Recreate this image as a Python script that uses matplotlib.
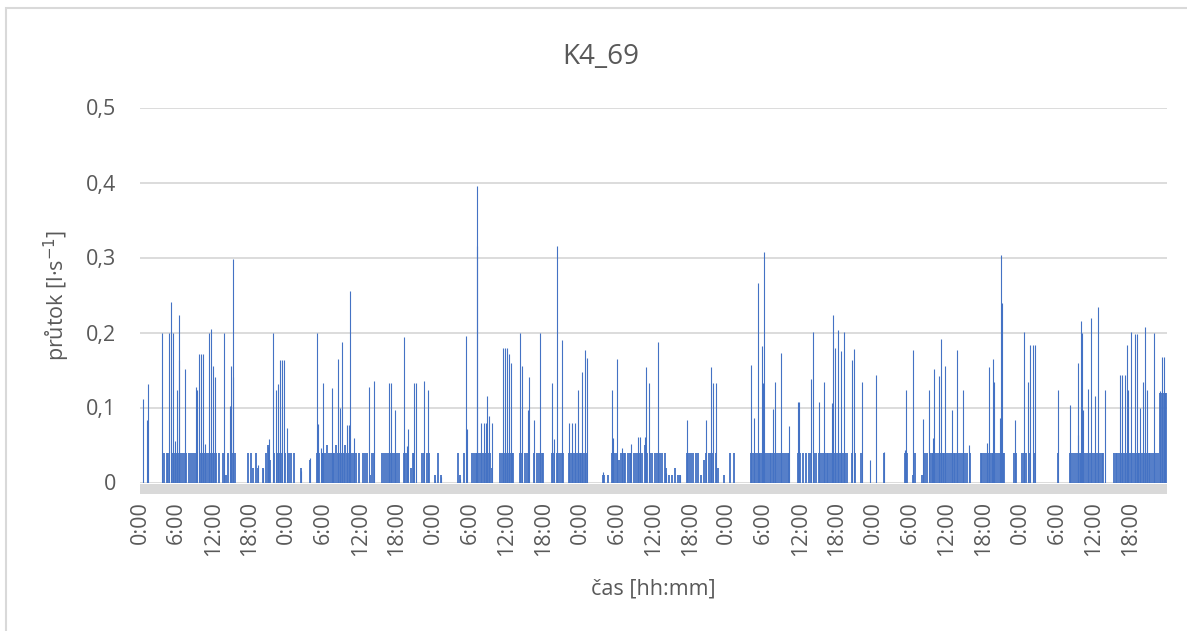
import matplotlib
matplotlib.use("Agg")
import matplotlib.pyplot as plt
from matplotlib.patches import Rectangle

# ------------------------------------------------------------
# data: hours since start (0 = 0:00 of day 1), flow in l/s
# ------------------------------------------------------------
# larger draw-off events
peak_h = [
    0.54, 1.10, 1.36, 3.65, 4.79, 5.07, 5.35, 5.73, 6.00, 6.33,
    6.43, 7.36, 9.11, 9.28, 9.65, 9.98, 10.35, 10.63, 11.34, 11.61,
    11.89, 12.22, 13.79, 14.72, 14.89, 15.16, 15.26, 19.25, 20.07, 20.89,
    21.15, 21.80, 22.25, 22.62, 22.90, 23.18, 23.51, 24.10,
    26.29, 27.81, 28.90, 29.07, 29.66, 29.89, 31.41, 32.44, 32.72, 33.04,
    33.81, 34.14, 34.35, 35.01, 37.41, 38.33, 40.78, 41.01, 41.71, 43.19,
    43.63, 43.89, 44.87, 45.15, 46.51, 47.16, 48.26, 49.24,
    52.35, 53.33, 53.54, 55.08, 55.17, 55.73, 56.27, 56.55, 56.81, 57.09,
    57.53, 59.43, 59.71, 60.08, 60.41, 60.69, 62.16, 62.44, 63.42, 63.58,
    64.50, 65.43, 67.44, 67.77, 68.16, 68.98, 70.23, 70.72, 71.16, 71.60,
    72.35, 72.74, 73.07,
    75.69, 77.16, 77.42, 78.08, 78.89, 80.27, 81.51, 81.79, 82.61, 82.77,
    83.31, 84.73, 86.04, 88.33, 89.53, 92.59, 93.40, 93.68, 94.17,
    99.95, 100.44, 101.05, 101.70, 101.91, 102.12, 103.50, 103.87, 104.90, 106.21,
    107.59, 107.80, 109.71, 110.04, 111.12, 111.89, 113.15, 113.41, 113.69, 114.13,
    114.62, 115.16, 116.47, 116.80, 118.05, 119.41, 120.39, 121.70,
    125.14, 125.30, 126.40, 128.03, 129.01, 129.67, 129.83, 130.75, 130.98, 131.68,
    132.78, 133.60, 134.68, 135.66, 138.60, 138.88, 139.59, 139.75, 140.63, 140.84,
    141.01, 143.14, 144.66, 145.21, 145.59, 146.03, 146.41,
    150.12, 152.13, 153.39, 153.49, 153.88, 154.04, 154.30, 155.12, 155.51, 156.22,
    156.71, 157.86, 160.31, 160.69, 161.13, 161.40, 161.66, 162.06, 162.76, 163.14,
    163.58, 164.12, 164.39, 164.77, 165.87, 166.85, 167.13, 167.50,
]
peak_v = [
    0.111, 0.083, 0.132, 0.200, 0.200, 0.241, 0.200, 0.055, 0.123, 0.223,
    0.164, 0.151, 0.128, 0.124, 0.172, 0.172, 0.172, 0.052, 0.200, 0.205,
    0.155, 0.141, 0.200, 0.102, 0.155, 0.298, 0.141, 0.024, 0.018, 0.047,
    0.058, 0.200, 0.124, 0.132, 0.163, 0.163, 0.163, 0.073,
    0.016, 0.033, 0.200, 0.078, 0.046, 0.133, 0.126, 0.165, 0.100, 0.187,
    0.077, 0.077, 0.256, 0.060, 0.128, 0.135, 0.133, 0.133, 0.097, 0.194,
    0.049, 0.071, 0.133, 0.133, 0.136, 0.123, 0.003, 0.008,
    0.005, 0.195, 0.071, 0.395, 0.316, 0.080, 0.080, 0.080, 0.116, 0.089,
    0.080, 0.180, 0.180, 0.180, 0.171, 0.160, 0.200, 0.155, 0.097, 0.141,
    0.084, 0.200, 0.133, 0.058, 0.316, 0.190, 0.080, 0.080, 0.080, 0.123,
    0.148, 0.177, 0.166,
    0.014, 0.123, 0.060, 0.165, 0.046, 0.052, 0.061, 0.061, 0.061, 0.154,
    0.133, 0.188, 0.013, 0.010, 0.084, 0.084, 0.154, 0.133, 0.133,
    0.157, 0.086, 0.266, 0.182, 0.133, 0.307, 0.098, 0.134, 0.173, 0.076,
    0.107, 0.107, 0.138, 0.201, 0.107, 0.134, 0.106, 0.223, 0.180, 0.204,
    0.176, 0.201, 0.164, 0.178, 0.134, 0.030, 0.143, 0.041,
    0.043, 0.124, 0.177, 0.085, 0.124, 0.060, 0.151, 0.142, 0.192, 0.156,
    0.097, 0.177, 0.124, 0.050, 0.053, 0.154, 0.165, 0.134, 0.086, 0.304,
    0.240, 0.084, 0.201, 0.134, 0.184, 0.184, 0.184,
    0.124, 0.104, 0.063, 0.160, 0.216, 0.200, 0.097, 0.125, 0.219, 0.116,
    0.234, 0.124, 0.144, 0.144, 0.144, 0.184, 0.124, 0.201, 0.198, 0.198,
    0.100, 0.134, 0.208, 0.124, 0.200, 0.122, 0.168, 0.168,
]

# small, frequent flows (mostly ~0.04 l/s)
low_h = [
    3.9, 4.4, 4.6, 5.2, 5.5, 5.9, 6.2, 6.6, 6.9, 7.2,
    7.6, 8.0, 8.3, 8.7, 9.0, 9.4, 9.8, 10.1, 10.5, 10.8,
    11.1, 11.5, 11.8, 12.1, 12.5, 12.9, 13.5, 14.1, 14.4, 15.0,
    15.5, 17.7, 18.1, 18.5, 18.9, 19.3, 20.2, 20.6, 20.9, 21.3,
    22.0, 22.4, 22.8, 23.3, 23.7, 24.3, 24.7, 25.2, 26.3, 27.8,
    29.0, 29.3, 29.7, 30.0, 30.3, 30.6, 30.9, 31.2, 31.5, 31.8,
    32.1, 32.4, 32.7, 33.0, 33.3, 33.6, 33.9, 34.2, 34.6, 35.0,
    35.4, 35.8, 36.4, 36.8, 37.2, 37.6, 38.0, 38.3, 39.6, 39.9,
    40.2, 40.5, 40.9, 41.2, 41.6, 42.0, 42.3, 43.2, 43.5, 43.9,
    44.3, 44.6, 44.9, 46.1, 46.5, 46.9, 47.2, 48.3, 48.8, 49.2,
    52.0, 52.4, 53.0, 53.5, 54.3, 54.6, 54.9, 55.2, 55.5, 55.8,
    56.1, 56.4, 56.7, 57.0, 57.3, 57.6, 58.9, 59.2, 59.6, 59.9,
    60.2, 60.5, 60.8, 61.0, 62.1, 62.5, 62.9, 63.3, 63.6, 64.5,
    64.9, 65.3, 65.7, 66.0, 67.4, 67.8, 68.2, 68.6, 68.9, 69.2,
    70.2, 70.5, 70.9, 71.2, 71.5, 71.9, 72.2, 72.5, 72.8, 73.1,
    75.7, 77.2, 77.5, 77.9, 78.3, 78.7, 79.1, 79.4, 79.8, 80.1,
    80.4, 80.8, 81.1, 81.5, 81.8, 82.2, 82.6, 83.0, 83.4, 83.8,
    84.2, 84.6, 85.0, 85.4, 85.8, 86.1, 86.5, 87.5, 88.3, 89.5,
    89.8, 90.1, 90.5, 90.9, 91.3, 92.3, 92.6, 93.0, 93.4, 93.8,
    94.2, 94.6, 96.5, 97.2, 75.9, 76.5, 87.0, 88.0, 91.8, 95.5,
    100.0, 100.3, 100.6, 100.9, 101.2, 101.5, 101.8, 102.1, 102.4, 102.7,
    103.0, 103.3, 103.6, 103.9, 104.2, 104.5, 104.8, 105.1, 105.4, 105.7,
    106.0, 106.2, 107.6, 108.0, 108.4, 109.0, 109.4, 109.8, 110.2, 110.6,
    111.1, 111.4, 111.7, 112.0, 112.3, 112.6, 112.9, 113.2, 113.5, 113.8,
    114.1, 114.4, 114.7, 115.0, 115.3, 115.6, 116.5, 116.9, 118.0, 121.7,
    125.1, 125.5, 126.4, 126.8, 128.0, 128.4, 128.8, 129.2, 129.5, 129.8,
    130.1, 130.4, 130.7, 131.0, 131.3, 131.6, 131.9, 132.2, 132.5, 132.8,
    133.1, 133.4, 133.7, 134.0, 134.3, 134.6, 134.9, 135.3, 135.7, 137.5,
    137.8, 138.1, 138.4, 138.7, 139.0, 139.3, 139.6, 139.9, 140.2, 140.5,
    140.8, 141.1, 141.4, 143.0, 143.3, 144.3, 144.6, 145.0, 145.6, 146.2,
    150.1, 152.1, 152.5, 152.8, 153.1, 153.4, 153.7, 154.0, 154.3, 154.6,
    154.9, 155.2, 155.5, 155.8, 156.1, 156.4, 156.7, 157.0, 157.3, 157.6,
    159.3, 159.6, 159.9, 160.2, 160.5, 160.8, 161.1, 161.4, 161.7, 162.0,
    162.3, 162.6, 162.9, 163.2, 163.5, 163.8, 164.1, 164.4, 164.7, 165.0,
    165.3, 165.6, 165.9, 166.2, 166.5, 166.8, 167.1, 167.4, 167.7, 167.9,
]
low_v = [
    0.04, 0.04, 0.04, 0.04, 0.04, 0.04, 0.04, 0.04, 0.04, 0.04,
    0.04, 0.04, 0.04, 0.04, 0.04, 0.04, 0.04, 0.04, 0.04, 0.04,
    0.04, 0.04, 0.04, 0.04, 0.04, 0.04, 0.04, 0.01, 0.04, 0.04,
    0.04, 0.04, 0.04, 0.02, 0.04, 0.02, 0.02, 0.04, 0.05, 0.03,
    0.04, 0.04, 0.04, 0.04, 0.04, 0.04, 0.04, 0.04, 0.02, 0.03,
    0.04, 0.04, 0.04, 0.04, 0.04, 0.05, 0.04, 0.04, 0.04, 0.04,
    0.05, 0.04, 0.04, 0.04, 0.04, 0.05, 0.04, 0.04, 0.04, 0.04,
    0.04, 0.04, 0.04, 0.04, 0.04, 0.01, 0.04, 0.04, 0.04, 0.04,
    0.04, 0.04, 0.04, 0.04, 0.04, 0.04, 0.04, 0.04, 0.04, 0.04,
    0.02, 0.04, 0.04, 0.04, 0.04, 0.04, 0.04, 0.01, 0.04, 0.01,
    0.04, 0.01, 0.04, 0.04, 0.04, 0.04, 0.04, 0.04, 0.04, 0.04,
    0.04, 0.04, 0.04, 0.04, 0.04, 0.02, 0.04, 0.04, 0.04, 0.04,
    0.04, 0.04, 0.04, 0.04, 0.04, 0.04, 0.04, 0.04, 0.04, 0.04,
    0.04, 0.04, 0.04, 0.04, 0.04, 0.04, 0.04, 0.04, 0.04, 0.04,
    0.04, 0.04, 0.04, 0.04, 0.04, 0.04, 0.04, 0.04, 0.04, 0.04,
    0.01, 0.04, 0.04, 0.04, 0.03, 0.04, 0.04, 0.04, 0.04, 0.04,
    0.04, 0.04, 0.04, 0.04, 0.04, 0.04, 0.05, 0.04, 0.04, 0.04,
    0.04, 0.04, 0.04, 0.04, 0.04, 0.02, 0.01, 0.02, 0.01, 0.04,
    0.04, 0.04, 0.04, 0.04, 0.04, 0.03, 0.04, 0.04, 0.04, 0.04,
    0.04, 0.02, 0.04, 0.04, 0.01, 0.01, 0.01, 0.01, 0.01, 0.01,
    0.04, 0.04, 0.04, 0.04, 0.04, 0.04, 0.04, 0.04, 0.04, 0.04,
    0.04, 0.04, 0.04, 0.04, 0.04, 0.04, 0.04, 0.04, 0.04, 0.04,
    0.04, 0.04, 0.04, 0.04, 0.04, 0.04, 0.04, 0.04, 0.04, 0.04,
    0.04, 0.04, 0.04, 0.04, 0.04, 0.04, 0.04, 0.04, 0.04, 0.04,
    0.04, 0.04, 0.04, 0.04, 0.04, 0.04, 0.04, 0.04, 0.04, 0.04,
    0.04, 0.04, 0.01, 0.04, 0.01, 0.04, 0.04, 0.04, 0.04, 0.04,
    0.04, 0.04, 0.04, 0.04, 0.04, 0.04, 0.04, 0.04, 0.04, 0.04,
    0.04, 0.04, 0.04, 0.04, 0.04, 0.04, 0.04, 0.04, 0.04, 0.04,
    0.04, 0.04, 0.04, 0.04, 0.04, 0.04, 0.04, 0.04, 0.04, 0.04,
    0.04, 0.04, 0.04, 0.04, 0.04, 0.04, 0.04, 0.04, 0.04, 0.04,
    0.04, 0.04, 0.04, 0.04, 0.04, 0.04, 0.04, 0.04, 0.04, 0.04,
    0.04, 0.04, 0.04, 0.04, 0.04, 0.04, 0.04, 0.04, 0.04, 0.04,
    0.04, 0.04, 0.04, 0.04, 0.04, 0.04, 0.04, 0.04, 0.04, 0.04,
    0.04, 0.04, 0.04, 0.04, 0.04, 0.04, 0.04, 0.04, 0.04, 0.04,
    0.04, 0.04, 0.04, 0.04, 0.04, 0.12, 0.12, 0.12, 0.12, 0.12,
]

tick_h = list(range(0, 168, 6))
tick_lbl = ["0:00", "6:00", "12:00", "18:00"] * 7
y_ticks = [0, 0.1, 0.2, 0.3, 0.4, 0.5]
y_lbl = ["0", "0,1", "0,2", "0,3", "0,4", "0,5"]

# ------------------------------------------------------------
# plot
# ------------------------------------------------------------
plt.rcParams['font.family'] = ['Open Sans', 'DejaVu Sans']
txt = '#595959'
blue = '#4472C4'
grey = '#d9d9d9'

W, H = 1187, 631
fig = plt.figure(figsize=(W / 100, H / 100), dpi=100)
ax = fig.add_axes([140 / W, 1 - 482.5 / H, 1027 / W, 375 / H])

# thick grey category axis (moving the spine resets the ticks, so do it first)
for s in ['top', 'right', 'left']:
    ax.spines[s].set_visible(False)
ax.spines['bottom'].set_position(('outward', 4.5))
ax.spines['bottom'].set_color(grey)
ax.spines['bottom'].set_linewidth(7.2)
ax.spines['bottom'].set_capstyle('butt')

ax.vlines(low_h, 0, low_v, color=blue, lw=1.3)
ax.vlines(peak_h, 0, peak_v, color=blue, lw=0.8)

ax.set_xlim(0, 168)
ax.set_ylim(0, 0.5)
ax.set_xticks(tick_h)
ax.set_xticklabels(tick_lbl)
ax.set_yticks(y_ticks)
ax.set_yticklabels(y_lbl)
ax.tick_params(axis='x', length=0, pad=9, labelrotation=90,
               labelsize=15.5, labelcolor=txt)
ax.tick_params(axis='y', length=0, pad=17, labelsize=15.5, labelcolor=txt)

ax.yaxis.grid(True, color=grey, lw=1.3)
ax.set_axisbelow(True)

ax.set_ylabel('průtok [l·s$^{-1}$]', fontsize=15.5, color=txt)
ax.yaxis.set_label_coords((72 - 140) / 1027, 0.5)
ax.set_xlabel('čas [hh:mm]', fontsize=15.5, color=txt)
ax.xaxis.set_label_coords((653 - 140) / 1027, -(578 - 482.5) / 375)

fig.text(601 / W, 1 - 57 / H, 'K4_69', fontsize=20, color=txt,
         ha='center', va='center')

# chart border (only left and top edges are visible in the crop)
fig.add_artist(Rectangle((6 / W, -0.1), 1.2, 1.1 - 8 / H,
                         transform=fig.transFigure, fill=False,
                         ec=grey, lw=1.5))

fig.savefig('out.png', dpi=100)
